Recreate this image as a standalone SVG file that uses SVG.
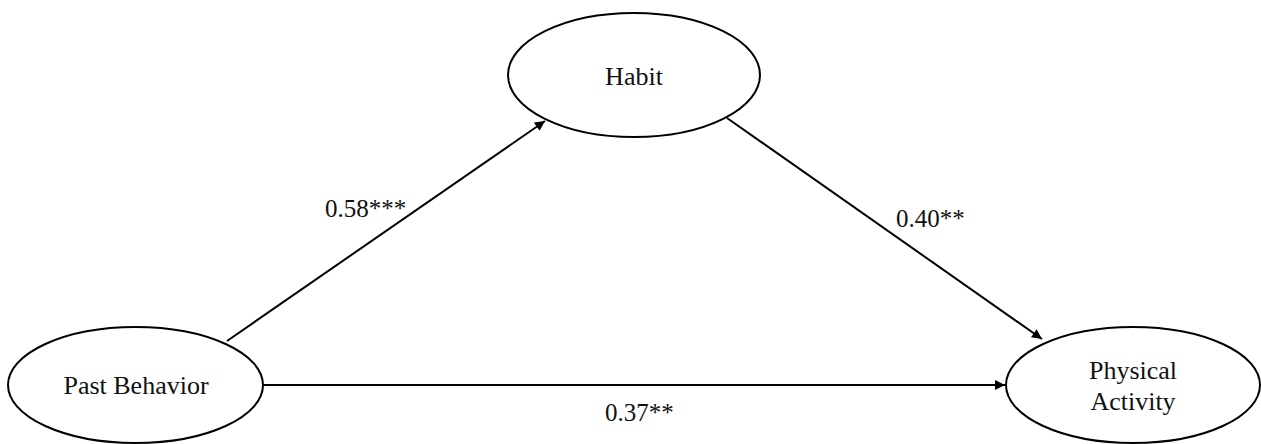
<svg xmlns="http://www.w3.org/2000/svg" width="1261" height="444" viewBox="0 0 1261 444">
<style>
.node{fill:#fff;stroke:#000;stroke-width:2}
.lbl{font-family:"Liberation Serif","Times New Roman",serif;font-size:26px;fill:#111;text-anchor:middle}
.edge{stroke:#000;stroke-width:2;fill:none;marker-end:url(#arr)}
.coef{font-family:"Liberation Serif","Times New Roman",serif;font-size:25px;fill:#111}
</style>
<defs>
<marker id="arr" viewBox="0 0 10 10" refX="10" refY="5" markerWidth="5.5" markerHeight="5" orient="auto" markerUnits="strokeWidth">
<path d="M0,0 L10,5 L0,10 z" fill="#000"/>
</marker>
</defs>
<rect width="1261" height="444" fill="#fff"/>
<g id="connectors">
<line class="edge" x1="227" y1="341" x2="545" y2="121"/>
<line class="edge" x1="727" y1="118" x2="1042" y2="339"/>
<line class="edge" x1="263" y1="385" x2="1005" y2="385"/>
<text class="coef" x="325" y="217">0.58***</text>
<text class="coef" x="896" y="227">0.40**</text>
<text class="coef" x="605" y="421">0.37**</text>
</g>
<g id="habit">
<ellipse class="node" cx="634" cy="75" rx="126" ry="62"/>
<text class="lbl" x="634" y="85">Habit</text>
</g>
<g id="past-behavior">
<ellipse class="node" cx="135.5" cy="385" rx="127.5" ry="58"/>
<text class="lbl" x="136" y="394">Past Behavior</text>
</g>
<g id="physical-activity">
<ellipse class="node" cx="1133" cy="385" rx="127" ry="58"/>
<text class="lbl" x="1133" y="379">Physical</text>
<text class="lbl" x="1133" y="410">Activity</text>
</g>
</svg>
